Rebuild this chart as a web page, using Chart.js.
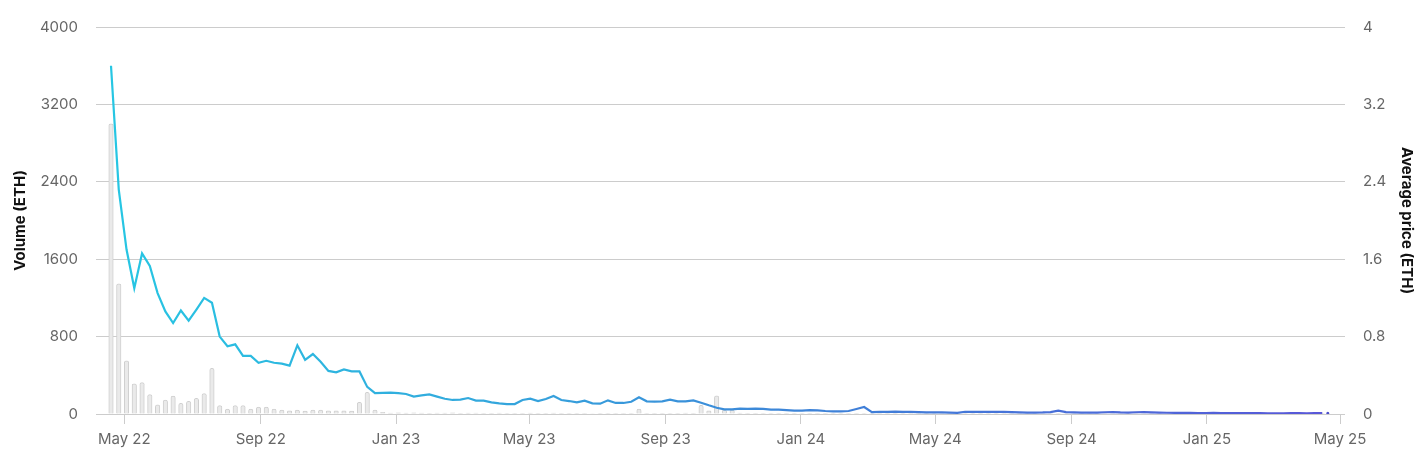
<!DOCTYPE html>
<html>
<head>
<meta charset="utf-8">
<script src="https://cdn.jsdelivr.net/npm/chart.js@4.4.1/dist/chart.umd.min.js"></script>
<style>
  html, body { margin: 0; padding: 0; background: #ffffff; }
  #wrap { width: 1422px; height: 466px; }
</style>
</head>
<body>
<div id="wrap"><canvas id="c" width="1422" height="466"></canvas></div>
<script>
// ---- data (weekly) ----
const firstWeek = '2022-04-19';

const volumeEth = [
  3000,1345,550,313,324,200,96,145,186,110,131,162,210,472,86,52,86,86,52,72,72,52,41,32,41,29,41,41,32,32,32,29,121,224,41,17,
  10,12,9,11,10,8,10,9,11,8,9,10,8,7,9,8,7,8,9,8,7,9,
  8,7,8,6,5,2,2,3,6,8,52,8,7,8,7,8,9,8,90,32,188,41,41,9,8,7,6,
  2,3,2,2,3,2,2,2,3,2,2,2,3,2,2,3,2,2,2,2,3,2,2,2,3,2,2,2,2,3,2,2,2,3,2,2,2,2,3,2,2,2,2,2,3,2,2,2,2,2,3,2,2,2,2,2,2,3,2,2,2,2,2,2,3,2,2,2,2,2,2,2
];

const avgPriceEth = [
  3.60,2.32,1.70,1.30,1.66,1.53,1.25,1.06,0.94,1.07,0.965,1.08,1.20,1.15,0.80,0.70,0.72,0.60,0.60,0.53,0.55,0.53,0.52,0.50,0.71,0.56,0.62,0.54,0.445,0.43,0.46,0.44,0.44,0.28,0.215,0.218,
  0.22,0.215,0.207,0.18,0.193,0.203,0.18,0.158,0.145,0.148,0.165,0.138,0.138,0.121,0.11,0.103,0.103,0.145,0.158,0.134,0.155,0.186,
  0.145,0.134,0.12,0.138,0.110,0.107,0.141,0.114,0.114,0.127,0.172,0.131,0.127,0.131,0.148,0.131,0.131,0.141,0.117,0.090,0.065,0.048,0.048,0.055,0.052,0.055,0.052,0.045,0.045,0.041,0.034,0.034,0.041,0.038,0.031,0.028,0.028,0.031,0.052,0.072,0.020,
  0.021,0.022,0.024,0.022,0.021,0.019,0.017,0.016,0.016,0.014,0.012,0.023,0.022,0.021,0.021,0.022,0.021,0.020,0.017,0.015,0.014,0.016,0.020,0.034,0.019,0.017,0.015,0.014,0.015,0.018,0.020,0.016,0.014,0.018,0.019,0.016,0.014,0.013,0.012,0.012,0.011,0.010,0.010,0.011,0.010,0.009,0.009,0.009,0.010,0.009,0.008,0.008,0.008,0.009,0.009,0.008,0.009,0.009
];

const latestDate = '2025-04-20';
const latestPrice = 0.008;

const tickDates = ['2022-05-01','2022-09-01','2023-01-01','2023-05-01','2023-09-01','2024-01-01','2024-05-01','2024-09-01','2025-01-01','2025-05-01'];
const tickLabels = ['May 22','Sep 22','Jan 23','May 23','Sep 23','Jan 24','May 24','Sep 24','Jan 25','May 25'];

const axisStart = '2022-04-09T02:00:00Z';
const axisEnd = '2025-05-01';

// ---- build ----
const DAY = 86400000;
const t0 = Date.parse(firstWeek);
const n = Math.min(volumeEth.length, avgPriceEth.length);
const weekDates = [];
for (let i = 0; i < n; i++) weekDates.push(t0 + i * 7 * DAY);

const volPts = weekDates.map((t, i) => ({ x: t, y: volumeEth[i] }));
const pricePts = weekDates.map((t, i) => ({ x: t, y: avgPriceEth[i] }));
const tickVals = tickDates.map(d => Date.parse(d));
const tickMap = {};
tickVals.forEach((v, i) => { tickMap[v] = tickLabels[i]; });

function lineGradient(ctx) {
  const chart = ctx.chart;
  const area = chart.chartArea;
  if (!area) return '#2ec4e2';
  const g = chart.ctx.createLinearGradient(area.left, 0, area.right, 0);
  g.addColorStop(0, '#26c7e3');
  g.addColorStop(0.3, '#33a9dd');
  g.addColorStop(0.55, '#3d86d8');
  g.addColorStop(0.8, '#4a6cd8');
  g.addColorStop(1, '#5a55d8');
  return g;
}

const FONT = 'Inter, "Noto Sans", sans-serif';

new Chart(document.getElementById('c'), {
  type: 'bar',
  data: {
    datasets: [
      {
        type: 'line',
        label: 'Average price (ETH)',
        data: pricePts,
        yAxisID: 'yPrice',
        borderColor: lineGradient,
        borderWidth: 2.2,
        pointRadius: 0,
        tension: 0,
        fill: false,
        order: 1
      },
      {
        type: 'line',
        label: 'latest',
        data: [{ x: Date.parse(latestDate), y: latestPrice }],
        yAxisID: 'yPrice',
        showLine: false,
        pointRadius: 1.5,
        pointBorderWidth: 0,
        pointBackgroundColor: '#4b4fc9',
        order: 0
      },
      {
        type: 'bar',
        label: 'Volume (ETH)',
        data: volPts,
        yAxisID: 'yVol',
        backgroundColor: '#eaeaea',
        borderColor: '#cfcfcf',
        borderWidth: 1,
        borderRadius: { topLeft: 2, topRight: 2 },
        borderSkipped: 'bottom',
        barThickness: 4.5,
        order: 2
      }
    ]
  },
  options: {
    responsive: false,
    animation: false,
    devicePixelRatio: 1,
    layout: { padding: { top: 27, left: 0, right: 0, bottom: 0 } },
    plugins: { legend: { display: false }, tooltip: { enabled: false } },
    scales: {
      x: {
        type: 'linear',
        position: 'bottom',
        min: Date.parse(axisStart),
        max: Date.parse(axisEnd),
        offset: false,
        afterBuildTicks: (scale) => { scale.ticks = tickVals.map(v => ({ value: v })); },
        afterFit: (scale) => { scale.height = 52; },
        ticks: {
          autoSkip: false,
          maxRotation: 0,
          color: '#666666',
          font: { family: FONT, size: 15 },
          padding: 6,
          callback: (v) => tickMap[v] || ''
        },
        grid: { offset: false, drawOnChartArea: false, drawTicks: true, tickLength: 10, color: '#cccccc' },
        border: { display: false }
      },
      yVol: {
        type: 'linear',
        position: 'left',
        min: 0,
        max: 4000,
        afterFit: (scale) => { scale.width = 100; },
        ticks: {
          stepSize: 800,
          color: '#666666',
          font: { family: FONT, size: 15 },
          padding: 18,
          callback: (v) => String(Math.round(v))
        },
        grid: { color: '#cccccc', tickLength: 4 },
        border: { display: false },
        title: {
          display: true,
          text: 'Volume (ETH)',
          color: '#111111',
          font: { family: FONT, size: 15, weight: 'bold' },
          padding: { top: 11, bottom: 0 }
        }
      },
      yPrice: {
        type: 'linear',
        position: 'right',
        min: 0,
        max: 4,
        afterFit: (scale) => { scale.width = 82; },
        ticks: {
          stepSize: 0.8,
          color: '#666666',
          font: { family: FONT, size: 15 },
          padding: 18,
          callback: (v) => String(+Number(v).toFixed(1))
        },
        grid: { drawOnChartArea: false, color: '#cccccc', tickLength: 5 },
        border: { display: false },
        title: {
          display: true,
          text: 'Average price (ETH)',
          color: '#111111',
          font: { family: FONT, size: 15, weight: 'bold' },
          padding: { top: 6, bottom: 0 }
        }
      }
    }
  }
});
</script>
</body>
</html>
